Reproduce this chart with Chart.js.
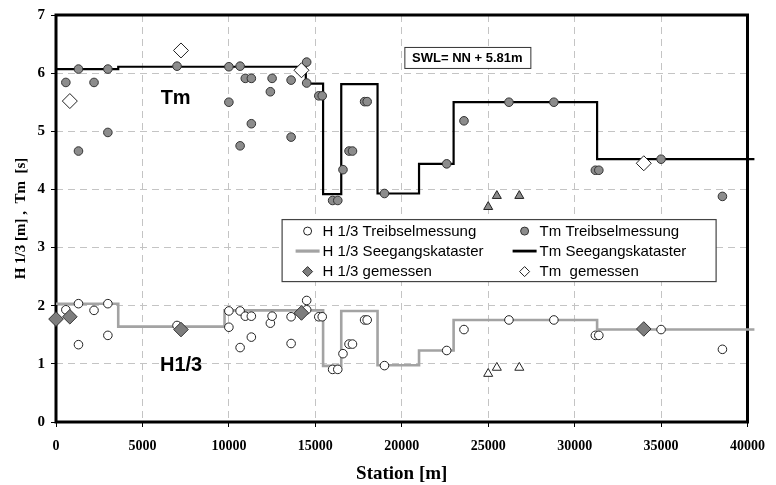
<!DOCTYPE html>
<html>
<head>
<meta charset="utf-8">
<script src="https://cdn.jsdelivr.net/npm/chart.js@4/dist/chart.umd.min.js"></script>
<style>
html,body{margin:0;padding:0;background:#fff;}
#wrap{width:776px;height:485px;}
</style>
</head>
<body>
<div id="wrap"><canvas id="c" width="776" height="485"></canvas></div>
<script>
// Axis ticks: station [m] and H 1/3 [m] / Tm [s]
const xTicks = [0, 5000, 10000, 15000, 20000, 25000, 30000, 35000, 40000];
const yTicks = [0, 1, 2, 3, 4, 5, 6, 7];

// Treibselmessung (drift line survey): stations and values
const driftStation = [570, 1300, 1300, 2200, 3000, 3000, 7000, 10000, 10000, 10650, 10650,
  10950, 11300, 11300, 12400, 12500, 13600, 13600, 14500, 14500, 15200, 15400, 16000, 16300,
  16600, 16950, 17150, 17850, 18000, 19000, 22600, 23600, 26200, 28800, 31200, 31400, 35000, 38550];
const tmDrift = [5.84, 6.07, 4.66, 5.84, 6.07, 4.98, 6.12, 6.11, 5.50, 6.12, 4.75,
  5.91, 5.91, 5.13, 5.68, 5.91, 5.88, 4.90, 6.19, 5.83, 5.61, 5.61, 3.81, 3.81,
  4.34, 4.66, 4.66, 5.51, 5.51, 3.93, 4.44, 5.18, 5.50, 5.50, 4.33, 4.33, 4.52, 3.88];
const hDrift = [1.93, 2.035, 1.33, 1.92, 2.035, 1.49, 1.66, 1.91, 1.63, 1.91, 1.28,
  1.82, 1.82, 1.46, 1.70, 1.82, 1.81, 1.35, 2.09, 1.93, 1.81, 1.81, 0.905, 0.905,
  1.175, 1.34, 1.34, 1.755, 1.755, 0.97, 1.23, 1.59, 1.755, 1.755, 1.49, 1.49, 1.59, 1.25];

// Additional drift readings without legend entry (triangles)
const extraStation = [25000, 25500, 26800];
const tmExtra = [3.70, 3.89, 3.89];
const hExtra = [0.83, 0.935, 0.935];

// Seegangskataster: step breakpoints (value holds until next station)
const katStation = [0, 3600, 9750, 14450, 15450, 16500, 18600, 21000, 23000, 31300, 40400];
const hKataster = [2.035, 1.64, 1.92, 1.92, 0.965, 1.91, 0.975, 1.23, 1.755, 1.59, 1.59];
const tmKataster = [6.07, 6.11, 6.11, 5.82, 3.92, 5.81, 3.93, 4.44, 5.50, 4.52, 4.52];

// Gemessen (gauge measurements)
const hMeasStation = [0, 800, 7230, 14200, 34000];
const hMeasured = [1.77, 1.81, 1.59, 1.875, 1.60];
const tmMeasStation = [800, 7230, 14200, 34000];
const tmMeasured = [5.52, 6.39, 6.05, 4.45];

const serif = "'Liberation Serif', 'Times New Roman', serif";
const sans = "'Liberation Sans', Arial, sans-serif";

const pts = (xs, ys) => xs.map((x, i) => ({ x, y: ys[i] }));

const datasets = [
  { label: 'H 1/3 gemessen', data: pts(hMeasStation, hMeasured), pointStyle: 'rectRot',
    pointRadius: 7.3, backgroundColor: '#7d7d7d', borderColor: '#333', borderWidth: 1, order: 1 },
  { label: 'Tm  gemessen', data: pts(tmMeasStation, tmMeasured), pointStyle: 'rectRot',
    pointRadius: 7.5, backgroundColor: '#fff', borderColor: '#222', borderWidth: 1, order: 1 },
  { label: 'Tm extra', data: pts(extraStation, tmExtra), pointStyle: 'triangle',
    pointRadius: 5.2, backgroundColor: '#8c8c8c', borderColor: '#222', borderWidth: 1, order: 2 },
  { label: 'H extra', data: pts(extraStation, hExtra), pointStyle: 'triangle',
    pointRadius: 5.2, backgroundColor: '#fff', borderColor: '#222', borderWidth: 1, order: 2 },
  { label: 'Tm Treibselmessung', data: pts(driftStation, tmDrift), pointStyle: 'circle',
    pointRadius: 4.3, backgroundColor: '#8c8c8c', borderColor: '#333', borderWidth: 1, order: 3 },
  { label: 'H 1/3 Treibselmessung', data: pts(driftStation, hDrift), pointStyle: 'circle',
    pointRadius: 4.3, backgroundColor: '#fff', borderColor: '#222', borderWidth: 1, order: 3 },
  { label: 'Tm Seegangskataster', data: pts(katStation, tmKataster), showLine: true, stepped: true,
    pointRadius: 0, borderColor: '#000', borderWidth: 2.2, order: 5 },
  { label: 'H 1/3 Seegangskataster', data: pts(katStation, hKataster), showLine: true, stepped: true,
    pointRadius: 0, borderColor: '#a3a3a3', borderWidth: 2.6, order: 6 }
];
datasets.forEach(d => { d.clip = false; });

// Thick frame around the plot area
const framePlugin = {
  id: 'frame',
  beforeDatasetsDraw(chart) {
    const { ctx, chartArea: a } = chart;
    ctx.save();
    ctx.strokeStyle = '#000';
    ctx.lineWidth = 3;
    ctx.strokeRect(a.left, a.top, a.right - a.left, a.bottom - a.top);
    ctx.restore();
  }
};

function drawSymbol(ctx, ds, cx, cy) {
  ctx.save();
  if (ds.showLine) {
    ctx.strokeStyle = ds.borderColor;
    ctx.lineWidth = ds.borderWidth + 0.6;
    ctx.beginPath();
    ctx.moveTo(cx - 12, cy);
    ctx.lineTo(cx + 12, cy);
    ctx.stroke();
  } else {
    ctx.fillStyle = ds.backgroundColor;
    ctx.strokeStyle = ds.borderColor;
    ctx.lineWidth = 1;
    ctx.beginPath();
    if (ds.pointStyle === 'rectRot') {
      const r = 5;
      ctx.moveTo(cx, cy - r); ctx.lineTo(cx + r, cy); ctx.lineTo(cx, cy + r); ctx.lineTo(cx - r, cy);
      ctx.closePath();
    } else {
      ctx.arc(cx, cy, 4, 0, Math.PI * 2);
    }
    ctx.fill();
    ctx.stroke();
  }
  ctx.restore();
}

// In-plot legend box and text labels
const notesPlugin = {
  id: 'notes',
  afterDatasetsDraw(chart, args, o) {
    const { ctx, scales: { x, y } } = chart;
    const dsByLabel = {};
    chart.data.datasets.forEach(d => { dsByLabel[d.label] = d; });

    // legend
    const L = x.getPixelForValue(o.legend.at[0]);
    const T = y.getPixelForValue(o.legend.at[1]);
    ctx.save();
    ctx.fillStyle = '#fff';
    ctx.fillRect(L, T, o.legend.w, o.legend.h);
    ctx.strokeStyle = '#444';
    ctx.lineWidth = 1.2;
    ctx.strokeRect(L + 0.5, T + 0.5, o.legend.w, o.legend.h);
    ctx.font = '15px ' + sans;
    ctx.fillStyle = '#000';
    ctx.textBaseline = 'middle';
    o.legend.columns.forEach((col, ci) => {
      col.forEach((label, ri) => {
        const cy = T + o.legend.rows[ri];
        drawSymbol(ctx, dsByLabel[label], L + o.legend.symX[ci], cy);
        ctx.fillText(label, L + o.legend.textX[ci], cy + 0.5);
      });
    });

    // series names
    ctx.font = 'bold 20px ' + sans;
    ctx.textAlign = 'center';
    o.names.forEach(n => {
      ctx.fillText(n.text, x.getPixelForValue(n.at[0]), y.getPixelForValue(n.at[1]));
    });

    // still water level box
    const sx = x.getPixelForValue(o.swl.at[0]);
    const sy = y.getPixelForValue(o.swl.at[1]);
    ctx.fillStyle = '#fff';
    ctx.fillRect(sx - o.swl.w / 2, sy - o.swl.h / 2, o.swl.w, o.swl.h);
    ctx.strokeStyle = '#333';
    ctx.lineWidth = 1;
    ctx.strokeRect(sx - o.swl.w / 2 + 0.5, sy - o.swl.h / 2 + 0.5, o.swl.w, o.swl.h);
    ctx.fillStyle = '#000';
    ctx.font = 'bold 13px ' + sans;
    ctx.fillText(o.swl.text, sx, sy + 0.5);
    ctx.restore();
  }
};

new Chart(document.getElementById('c'), {
  type: 'scatter',
  data: { datasets },
  options: {
    responsive: false,
    animation: false,
    events: [],
    layout: { padding: { left: 0, top: 15, right: 21, bottom: 0 } },
    scales: {
      x: {
        type: 'linear', min: 0, max: 40000,
        afterBuildTicks: s => { s.ticks = xTicks.map(v => ({ value: v })); },
        afterFit: s => { s.height = 63; },
        ticks: { callback: v => String(v), autoSkip: false, maxRotation: 0,
          font: { family: serif, weight: 'bold', size: 14 }, color: '#000', padding: 11 },
        grid: { color: '#c4c4c4', lineWidth: 1, tickLength: 5, tickColor: '#000', tickWidth: 1, tickBorderDash: [] },
        border: { display: false, dash: [7, 5] },
        title: { display: true, text: 'Station [m]', color: '#000',
          font: { family: serif, weight: 'bold', size: 19 }, padding: { top: 0, bottom: 0 } }
      },
      y: {
        type: 'linear', min: 0, max: 7,
        afterBuildTicks: s => { s.ticks = yTicks.map(v => ({ value: v })); },
        afterFit: s => { s.width = 56; },
        ticks: { callback: v => String(v), font: { family: serif, weight: 'bold', size: 15 },
          color: '#000', padding: 6 },
        grid: { color: '#c4c4c4', lineWidth: 1, tickLength: 5, tickColor: '#000', tickWidth: 1, tickBorderDash: [] },
        border: { display: false, dash: [7, 5] },
        title: { display: true, text: 'H 1/3 [m] ,  Tm  [s]', color: '#000',
          font: { family: serif, weight: 'bold', size: 15 }, padding: { top: 12, bottom: 0 } }
      }
    },
    plugins: {
      legend: { display: false },
      tooltip: { enabled: false },
      notes: {
        legend: {
          at: [13050, 3.49], w: 434, h: 62,
          rows: [12, 32, 52.5], symX: [26, 243], textX: [41, 258],
          columns: [
            ['H 1/3 Treibselmessung', 'H 1/3 Seegangskataster', 'H 1/3 gemessen'],
            ['Tm Treibselmessung', 'Tm Seegangskataster', 'Tm  gemessen']
          ]
        },
        names: [ { text: 'Tm', at: [6920, 5.56] }, { text: 'H1/3', at: [7236, 0.98] } ],
        swl: { text: 'SWL= NN + 5.81m', at: [23795, 6.27], w: 126, h: 21 }
      }
    }
  },
  plugins: [framePlugin, notesPlugin]
});
</script>
</body>
</html>
